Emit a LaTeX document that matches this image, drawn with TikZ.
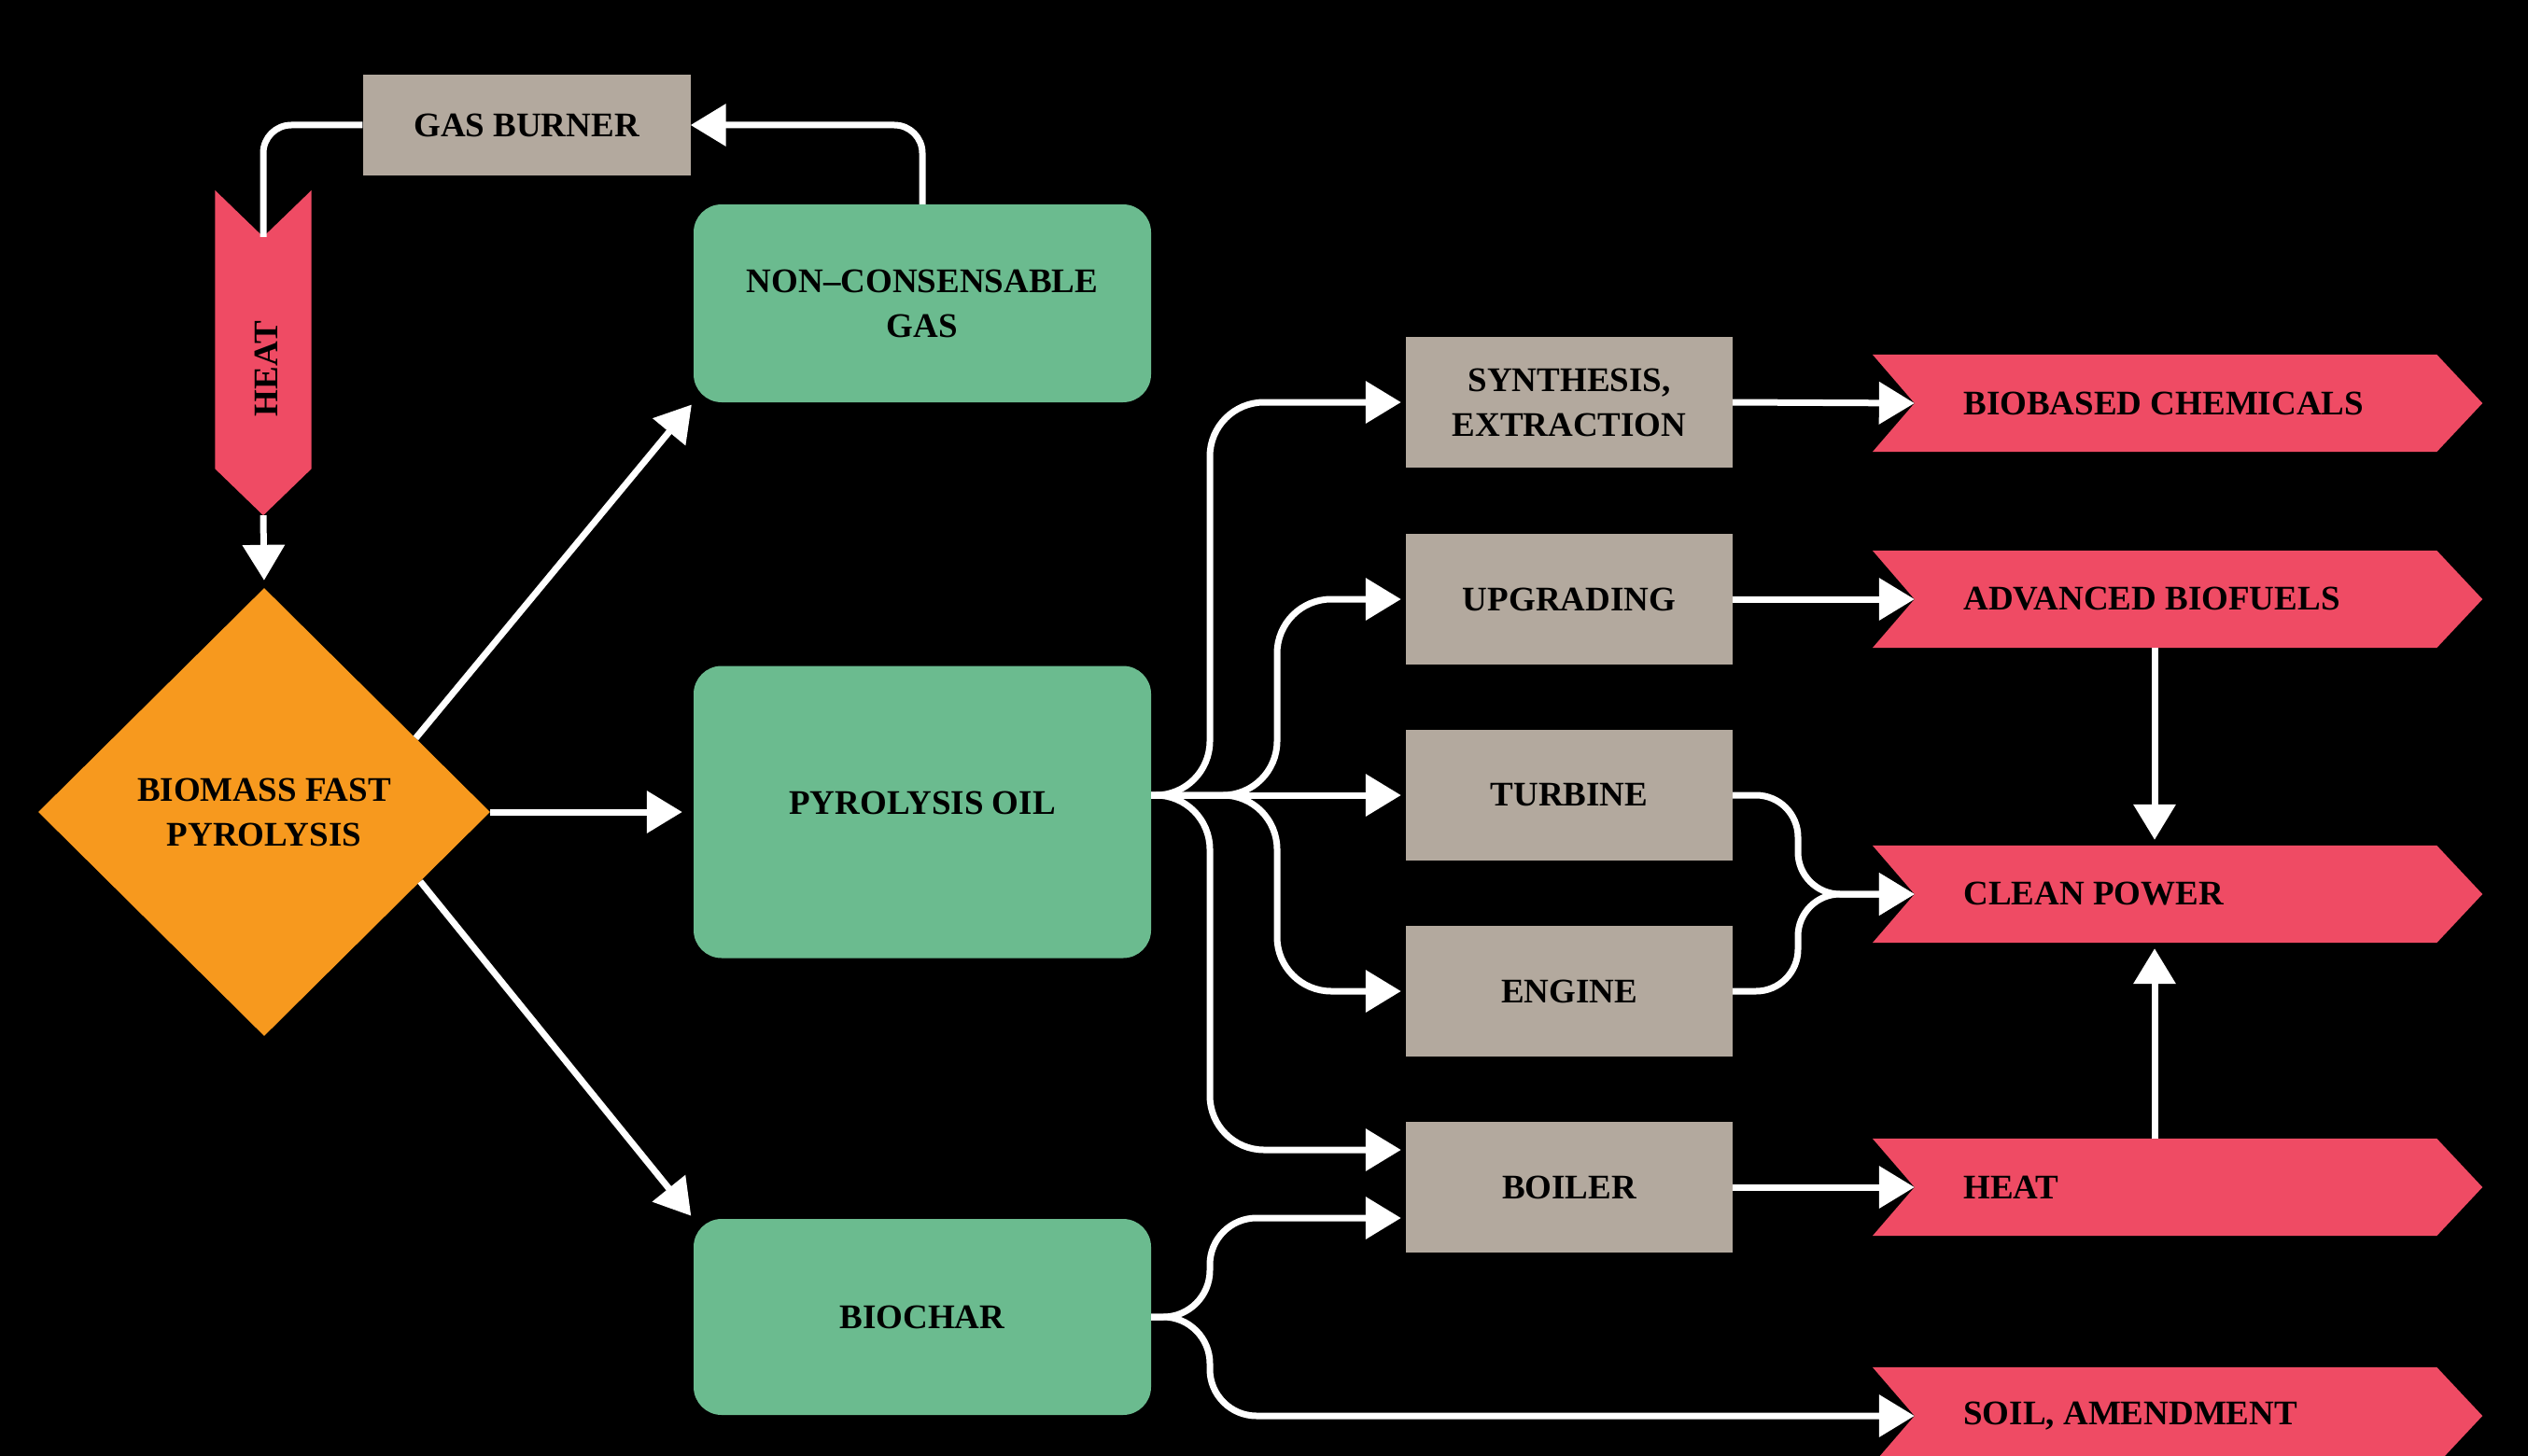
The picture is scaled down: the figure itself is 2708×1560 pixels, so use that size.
\documentclass[tikz,border=0pt]{standalone}
\usepackage{fontspec}
\setmainfont{Liberation Serif}
\usetikzlibrary{arrows.meta,shapes.geometric,calc}
\definecolor{greenc}{RGB}{107,187,143}
\definecolor{grayc}{RGB}{179,169,158}
\definecolor{redc}{RGB}{239,75,100}
\definecolor{orangec}{RGB}{247,153,30}
\newcommand\chev[3]{%
  \node[chevbox] (#1) at (2308,#2) {};
  \fill[redc] (#1.north west) -- (#1.north east) -- ([xshift=49pt]#1.east) -- (#1.south east) -- (#1.south west) -- ([xshift=45pt]#1.west) -- cycle;
  \coordinate (#1-in) at ([xshift=45pt]#1.west);
  \node[txt, anchor=west] (#1-t) at ([xshift=94pt]#1.west) {#3};
}
\begin{document}
\begin{tikzpicture}[x=1pt,y=-1pt,
  txt/.style={font=\fontsize{37}{48}\selectfont\bfseries, text=black, align=center},
  greenbox/.style={txt, fill=greenc, rounded corners=30pt, minimum width=490pt, inner sep=0pt},
  graybox/.style={txt, fill=grayc, minimum width=350pt, minimum height=140pt, inner sep=0pt},
  chevbox/.style={minimum width=604pt, minimum height=104pt, inner sep=0pt},
  wline/.style={draw=white, line width=7pt},
  conn/.style={wline, -{Triangle[length=38pt,width=44pt]}},
]
\useasboundingbox (0,0) rectangle (2708,1560);
\fill[black] (0,0) rectangle (2708,1560);

% nodes
\node[graybox, minimum width=351pt, minimum height=108pt] (gb) at (564,134) {GAS BURNER};
\node[minimum width=103pt, minimum height=298pt, inner sep=0pt] (heatv) at (282,353) {};
\fill[redc] (heatv.north west) -- ([yshift=-50pt]heatv.north) -- (heatv.north east) -- (heatv.south east) -- ([yshift=-50pt]heatv.south) -- (heatv.south west) -- cycle;
\coordinate (heatv-in) at ([yshift=-50pt]heatv.north);
\coordinate (heatv-out) at ([yshift=-50pt]heatv.south);
\node[txt, rotate=90] (heatv-t) at (285,395) {HEAT};

\node[txt, diamond, fill=orangec, minimum width=484pt, minimum height=480pt, inner sep=0pt] (dia) at (283,870) {BIOMASS FAST\\PYROLYSIS};

\node[greenbox, minimum height=212pt] (ncg) at (988,325) {NON\textendash CONSENSABLE\\GAS};
\node[greenbox, minimum height=313pt] (pyro) at (988,870) {};
\node[txt] (pyro-t) at ([yshift=10pt]pyro.center) {PYROLYSIS OIL};
\node[greenbox, minimum height=210pt] (bio) at (988,1411) {BIOCHAR};

\node[graybox] (synth) at (1681,431) {SYNTHESIS,\\EXTRACTION};
\node[graybox] (upg) at (1681,642) {UPGRADING};
\node[graybox] (turb) at (1681,852) {TURBINE};
\node[graybox] (eng) at (1681,1062) {ENGINE};
\node[graybox] (boil) at (1681,1272) {BOILER};

\chev{bchem}{432}{BIOBASED CHEMICALS}
\chev{abio}{642}{ADVANCED BIOFUELS}
\chev{cpow}{958}{CLEAN POWER}
\chev{heatr}{1272}{HEAT}
\chev{soil}{1517}{SOIL, AMENDMENT}

% helper coordinates
\coordinate (po-out) at (pyro.east |- turb.west);
\coordinate (busA) at (1296,0);
\coordinate (busB) at (1368,0);
\coordinate (busC) at (1926,0);
\coordinate (boil-in1) at ([yshift=40pt]boil.west);
\coordinate (boil-in2) at ([yshift=-33pt]boil.west);

% connectors
\draw[wline, rounded corners=30pt] (gb.west) -| (heatv-in);
\draw[conn, rounded corners=30pt] (ncg.north) |- (gb.east);
\draw[conn, shorten >=8pt] (heatv-out) -- (dia.north);
\draw[conn, shorten >=3pt] (dia.26) -- (ncg.south west);
\draw[conn, shorten >=12pt] (dia.east) -- (pyro.west);
\draw[conn, shorten >=4pt] (dia.-24) -- (bio.north west);

\draw[conn, rounded corners=58pt, shorten >=5pt] (po-out) -| (busA |- synth.west) -- (synth.west);
\draw[conn, rounded corners=58pt, shorten >=5pt] (po-out) -| (busB |- upg.west) -- (upg.west);
\draw[conn, shorten >=5pt] (po-out) -- (turb.west);
\draw[conn, rounded corners=58pt, shorten >=5pt] (po-out) -| (busB |- eng.west) -- (eng.west);
\draw[conn, rounded corners=58pt, shorten >=5pt] (po-out) -| (busA |- boil-in1) -- (boil-in1);

\draw[conn, rounded corners=50pt, shorten >=5pt] (bio.east) -| (busA |- boil-in2) -- (boil-in2);
\draw[conn, rounded corners=50pt] (bio.east) -| (busA |- soil-in) -- (soil-in);

\draw[conn] (synth.east) -- (bchem-in);
\draw[conn] (upg.east) -- (abio-in);
\draw[conn] (boil.east) -- (heatr-in);
\draw[conn, rounded corners=45pt] (turb.east) -| (busC |- cpow-in) -- (cpow-in);
\draw[conn, rounded corners=45pt] (eng.east) -| (busC |- cpow-in) -- (cpow-in);
\draw[conn, shorten >=6pt] (abio.south) -- (cpow.north);
\draw[conn, shorten >=6pt] (heatr.north) -- (cpow.south);
\end{tikzpicture}
\end{document}
